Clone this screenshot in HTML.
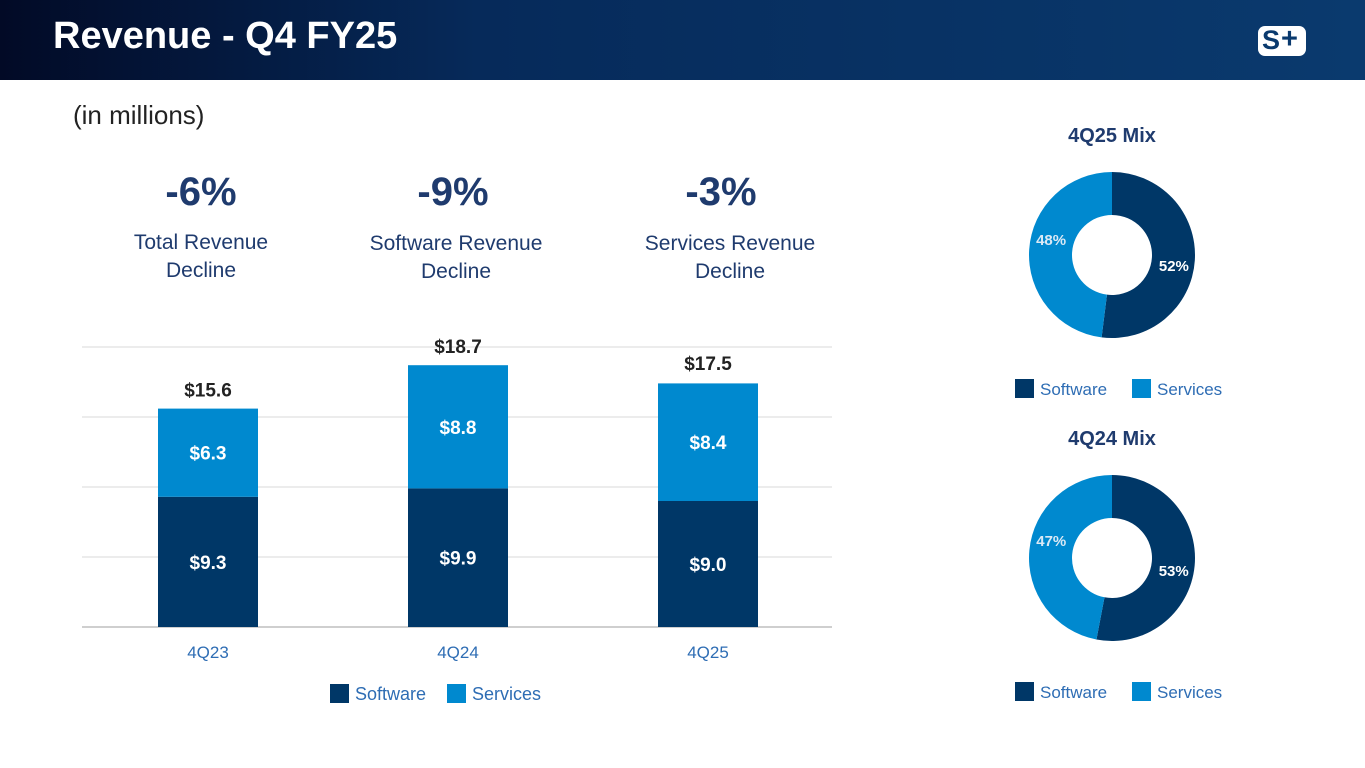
<!DOCTYPE html>
<html><head><meta charset="utf-8"><style>
body{margin:0;width:1365px;height:768px;background:#fff;font-family:"Liberation Sans",sans-serif;overflow:hidden;position:relative}
.hdr{position:absolute;left:0;top:0;width:1365px;height:80px;background:linear-gradient(90deg,#020a26 0%,#062a5a 35%,#0a3a6e 100%)}
.t{position:absolute;color:#fff;font-weight:bold;font-size:38px;left:53px;top:15px}
.abs{position:absolute}
.big{font-size:40px;font-weight:bold;color:#1f3b6e;text-align:center;width:260px}
.lbl{font-size:21px;color:#1f3b6e;text-align:center;width:260px;line-height:28px}
</style></head><body>
<div class="hdr"></div>
<div class="t">Revenue - Q4 FY25</div>
<div class="abs" style="left:1258px;top:26px;width:48px;height:30px;background:#fff;border-radius:7px"><span style="position:absolute;left:4px;top:-1px;font-weight:bold;font-size:27px;color:#0a3a6e">S</span><span style="position:absolute;left:23px;top:-3px;font-weight:bold;font-size:29px;color:#0a3a6e">+</span></div>
<div class="abs" style="left:73px;top:100px;font-size:26px;color:#222">(in millions)</div>
<div class="abs big" style="left:71px;top:170px">-6%</div>
<div class="abs lbl" style="left:71px;top:229px">Total Revenue<br>Decline</div>
<div class="abs big" style="left:323px;top:170px">-9%</div>
<div class="abs lbl" style="left:326px;top:230px">Software Revenue<br>Decline</div>
<div class="abs big" style="left:591px;top:170px">-3%</div>
<div class="abs lbl" style="left:600px;top:230px">Services Revenue<br>Decline</div>
<svg id="c" class="abs" style="left:0;top:0" width="1365" height="768"></svg>
<script>
const categories=["4Q23","4Q24","4Q25"];
const software=[9.3,9.9,9.0];
const services=[6.3,8.8,8.4];
const totals=[15.6,18.7,17.5];
const gridTicks=[0,5,10,15,20];
const mix25=[52,48];
const mix24=[53,47];
const DARK="#003767",LIGHT="#0089cf";
const svg=document.getElementById('c');
const NS="http://www.w3.org/2000/svg";
function mk(t,a,txt){const e=document.createElementNS(NS,t);for(const k in a)e.setAttribute(k,a[k]);if(txt!==undefined)e.textContent=txt;svg.appendChild(e);return e;}
const y=v=>627-v*14;
const xc=i=>208+i*250;
gridTicks.forEach(t=>{const g=mk('line',{x1:82,x2:832,y1:y(t),y2:y(t),stroke:t===0?'#bfbfbf':'#d9d9d9','stroke-width':t===0?1.5:1});

});
categories.forEach((c,i)=>{
 const b1=mk('rect',{x:xc(i)-50,y:y(software[i]),width:100,height:y(0)-y(software[i]),fill:DARK});
 
 
 const b2=mk('rect',{x:xc(i)-50,y:y(software[i]+services[i]),width:100,height:y(0)-y(services[i]),fill:LIGHT});
 
 
 const s={'font-size':19,'font-weight':'bold',fill:'#fff','text-anchor':'middle','font-family':'Liberation Sans'};
 mk('text',Object.assign({x:xc(i),y:(y(0)+y(software[i]))/2+7},s),'$'+software[i].toFixed(1));
 mk('text',Object.assign({x:xc(i),y:(y(software[i])+y(software[i]+services[i]))/2+7},s),'$'+services[i].toFixed(1));
 const tl=mk('text',Object.assign({},s,{fill:'#222',x:xc(i),y:y(totals[i])-12}),'$'+totals[i].toFixed(1));
 
 const cl=mk('text',{x:xc(i),y:658,'font-size':17,fill:'#2e6db4','text-anchor':'middle'},c);
 
 
});
function legend(x,yy,fs,name){
 const a=mk('rect',{x:x,y:yy-9,width:19,height:19,fill:DARK});
 mk('text',{x:x+25,y:yy+7,'font-size':fs,fill:'#2e6db4'},'Software');
 const b=mk('rect',{x:x+117,y:yy-9,width:19,height:19,fill:LIGHT});
 mk('text',{x:x+142,y:yy+7,'font-size':fs,fill:'#2e6db4'},'Services');
}
legend(330,693,18,'bar-legend');
function donut(cx,cy,vals,title,name){
 const tt=mk('text',{x:cx,y:cy-113,'font-size':20,'font-weight':'bold',fill:'#1f3b6e','text-anchor':'middle'},title);
 
 const R=83,r=40;let a0=0;const cols=[DARK,LIGHT];
 vals.forEach((v,i)=>{
  const a1=a0+v/100*2*Math.PI;
  const p=(a,rr)=>[cx+rr*Math.sin(a),cy-rr*Math.cos(a)];
  const [x1,y1]=p(a0,R),[x2,y2]=p(a1,R),[x3,y3]=p(a1,r),[x4,y4]=p(a0,r);
  const lg=(a1-a0)>Math.PI?1:0;
  const s=mk('path',{d:`M${x1},${y1}A${R},${R} 0 ${lg} 1 ${x2},${y2}L${x3},${y3}A${r},${r} 0 ${lg} 0 ${x4},${y4}Z`,fill:cols[i]});
  
  
  const am=(a0+a1)/2;const [lx,ly]=p(am,62);
  mk('text',{x:lx+(i==0?0:1),y:ly+(i==0?12:-6),'font-size':15,'font-weight':'bold',fill:i==0?'#fff':'#dbe9f5','text-anchor':'middle'},v+'%');
  a0=a1;
 });
 legend(cx-97,cy+133,17,name+'-legend');
}
donut(1112,255,mix25,'4Q25 Mix','donut-4q25');
donut(1112,558,mix24,'4Q24 Mix','donut-4q24');
</script>
</body></html>
